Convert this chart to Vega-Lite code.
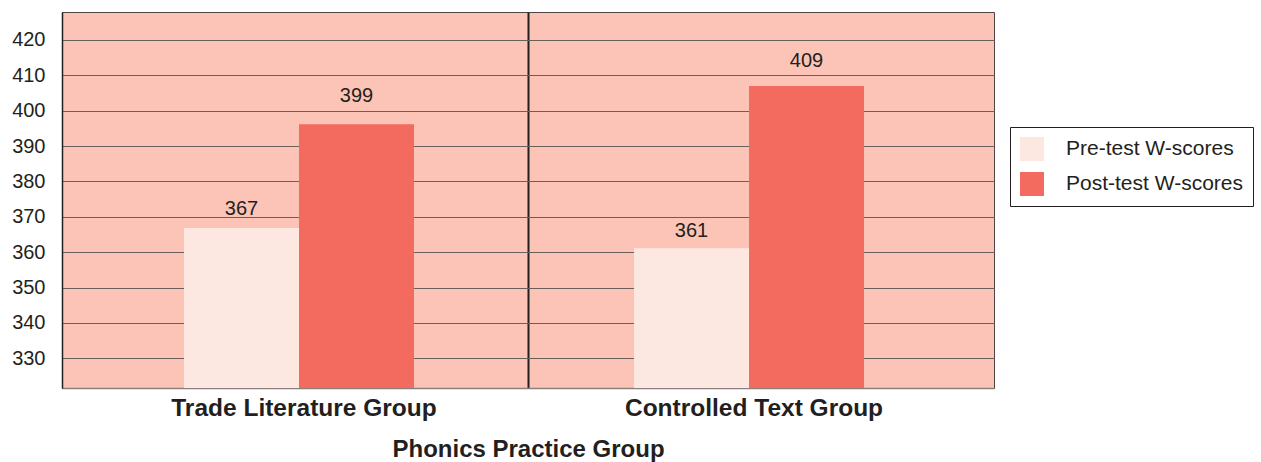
{
  "$schema": "https://vega.github.io/schema/vega-lite/v6.json",
  "autosize": {"type": "none"},
  "padding": {"left": 62, "top": 12, "right": 267, "bottom": 74},
  "width": 932,
  "height": 376,
  "background": "white",
  "config": {
    "view": {"fill": "#fcc4b6", "stroke": "#4d4444", "strokeWidth": 1},
    "font": "Liberation Sans"
  },
  "data": {
    "values": [
      {"group": "Trade Literature Group", "test": "Pre-test W-scores", "score": 366.8, "label": 367},
      {"group": "Trade Literature Group", "test": "Post-test W-scores", "score": 396.2, "label": 399},
      {"group": "Controlled Text Group", "test": "Pre-test W-scores", "score": 361.1, "label": 361},
      {"group": "Controlled Text Group", "test": "Post-test W-scores", "score": 407, "label": 409}
    ]
  },
  "encoding": {
    "x": {
      "field": "group",
      "type": "nominal",
      "sort": ["Trade Literature Group", "Controlled Text Group"],
      "title": "Phonics Practice Group",
      "scale": {"paddingInner": 0, "paddingOuter": 0.0355, "align": 0.375},
      "axis": {
        "labelAngle": 0,
        "labelFont": "Liberation Sans",
        "labelFontSize": 24.5,
        "labelFontWeight": "bold",
        "labelColor": "#231f20",
        "labelPadding": 8,
        "labelLimit": 400,
        "labelOffset": 5,
        "tickSize": 0,
        "domainColor": "#8a7f7d",
        "domainWidth": 1.5,
        "grid": true,
        "bandPosition": 0.011,
        "gridColor": "#231f20",
        "gridWidth": 2,
        "gridOpacity": {"condition": {"test": "datum.value === 'Trade Literature Group'", "value": 0}, "value": 1},
        "titleFont": "Liberation Sans",
        "titleFontSize": 24,
        "titleFontWeight": "bold",
        "titleColor": "#231f20",
        "titlePadding": 18
      }
    },
    "xOffset": {
      "field": "test",
      "type": "nominal",
      "sort": ["Pre-test W-scores", "Post-test W-scores"],
      "scale": {"paddingInner": 0, "paddingOuter": 0.957}
    }
  },
  "layer": [
    {
      "mark": {"type": "bar", "clip": true},
      "encoding": {
        "y": {
          "field": "score",
          "type": "quantitative",
          "scale": {"domain": [321.6, 427.9], "nice": false, "zero": false},
          "title": null,
          "axis": {
            "values": [330, 340, 350, 360, 370, 380, 390, 400, 410, 420],
            "labelFont": "Liberation Sans",
            "labelFontSize": 20,
            "labelColor": "#231f20",
            "labelPadding": 17,
            "tickSize": 0,
            "domainColor": "#231f20",
            "domainWidth": 1.5,
            "grid": true,
            "gridColor": "#6b5f5e",
            "gridWidth": 1.2
          }
        },
        "color": {
          "field": "test",
          "type": "nominal",
          "sort": ["Pre-test W-scores", "Post-test W-scores"],
          "scale": {"range": ["#fde8e1", "#f26b5e"]},
          "legend": {
            "title": null,
            "orient": "none",
            "legendX": 948,
            "legendY": 115,
            "fillColor": "white",
            "strokeColor": "#231f20",
            "padding": 10,
            "symbolType": "square",
            "symbolSize": 576,
            "symbolStrokeWidth": 0,
            "symbolOpacity": 1,
            "labelFont": "Liberation Sans",
            "labelFontSize": 21,
            "labelColor": "#231f20",
            "labelOffset": 22,
            "labelLimit": 400,
            "rowPadding": 11
          }
        }
      }
    },
    {
      "mark": {"type": "text", "font": "Liberation Sans", "fontSize": 20, "color": "#231f20", "baseline": "middle", "dy": -18},
      "encoding": {
        "y": {"field": "label", "type": "quantitative"},
        "text": {"field": "label", "type": "quantitative"}
      }
    }
  ]
}
